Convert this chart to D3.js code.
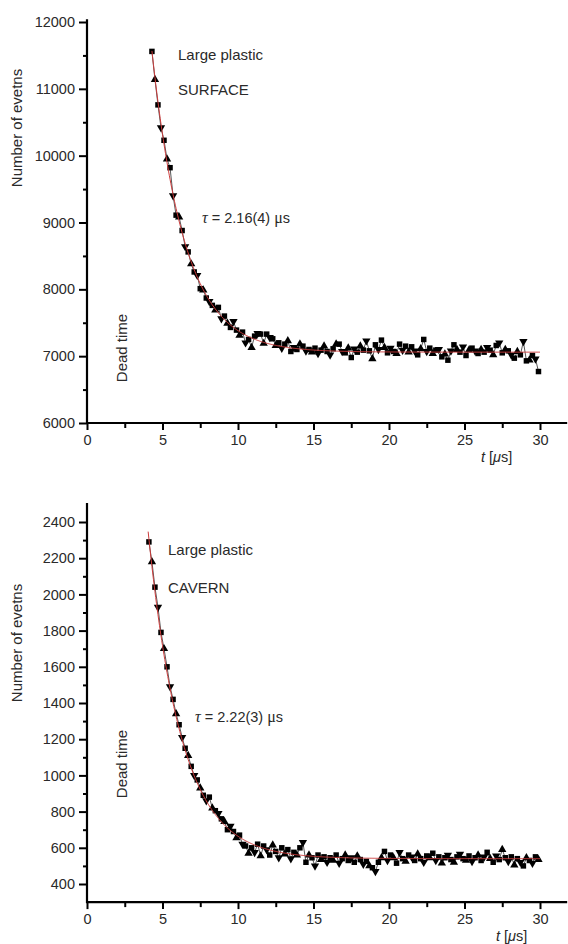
<!DOCTYPE html>
<html>
<head>
<meta charset="utf-8">
<script src="https://cdn.jsdelivr.net/npm/d3@7/dist/d3.min.js"></script>
<style>
  html, body { margin: 0; padding: 0; background: #fff; }
  svg { display: block; }
  text { font-family: "Liberation Sans", Arial, Helvetica, sans-serif; fill: #2a2a2a; }
</style>
</head>
<body>
<svg id="chart" width="568" height="944"></svg>
<script>
// ---- Time axis (bin centres in microseconds) ----
const binWidth = 0.2;
const xTicks = [0, 5, 10, 15, 20, 25, 30];
const xMinorTicks = [2.5, 7.5, 12.5, 17.5, 22.5, 27.5];

// ---- SURFACE detector: counts per bin, first bin at 4.3 us ----
const surfaceStart = 4.3;
const surfaceCounts = [
  11560, 11140, 10760, 10420, 10230, 9950, 9820, 9400, 9110, 9080,
  8880, 8640, 8560, 8380, 8260, 8210, 8010, 7990, 7870, 7820,
  7760, 7690, 7730, 7560, 7600, 7490, 7430, 7520, 7390, 7310,
  7360, 7200, 7250, 7130, 7300, 7340, 7330, 7190, 7330, 7280,
  7260, 7160, 7200, 7120, 7180, 7230, 7070, 7130, 7100, 7180,
  7150, 7080, 7100, 7060, 7120, 7040, 7090, 7150, 7070, 7020,
  7110, 7180, 7180, 7070, 7050, 7120, 6980, 7110, 7060, 7150,
  7090, 7230, 7080, 6960, 7170, 7100, 7240, 7130, 7050, 7120,
  7070, 7040, 7180, 7090, 7150, 7060, 7140, 7080, 7020, 7110,
  7250, 7070, 7120, 7040, 7090, 7100, 6990, 7030, 6940, 7080,
  7170, 7100, 7060, 7140, 7010, 7090, 7120, 7080, 7040, 7100,
  7060, 7130, 7090, 7020, 7160, 7200, 7050, 7100, 7080, 7020,
  6970, 7070, 7020, 7220, 6930, 6940, 7010, 6960, 6770
];
const surfaceYTicks = [6000, 7000, 8000, 9000, 10000, 11000, 12000];
const surfaceYMinor = [6500, 7500, 8500, 9500, 10500, 11500];
// exponential fit: N(t) = C + A * exp(-t / tau)
const surfaceFit = { tau: 2.16, amp: 33000, base: 7060, from: 4.3, to: 30 };

// ---- CAVERN detector: counts per bin, first bin at 4.1 us ----
const cavernStart = 4.1;
const cavernCounts = [
  2290, 2180, 2040, 1930, 1790, 1700, 1600, 1490, 1420, 1340,
  1280, 1210, 1150, 1110, 1050, 1000, 975, 930, 890, 860,
  880, 820, 805, 790, 760, 745, 700, 720, 690, 655,
  670, 620, 610, 570, 600, 575, 620, 555, 610, 590,
  560, 615, 580, 545, 600, 565, 590, 540, 575, 560,
  600, 630, 520, 560, 545, 500, 560, 535, 550, 520,
  545, 530, 560, 515, 540, 560, 530, 545, 520, 555,
  535, 510, 525, 500, 490, 470, 520, 545, 580, 530,
  560, 545, 515, 575, 540, 525, 560, 550, 530, 565,
  540, 520, 555, 545, 570, 530, 550, 515, 545, 560,
  535, 520, 550, 565, 540, 530, 555, 525, 545, 560,
  530, 550, 575, 540, 520, 555, 535, 590, 545, 525,
  550, 505, 540, 520, 500, 545, 530, 515, 550, 535
];
const cavernYTicks = [400, 600, 800, 1000, 1200, 1400, 1600, 1800, 2000, 2200, 2400];
const cavernYMinor = [500, 700, 900, 1100, 1300, 1500, 1700, 1900, 2100, 2300];
const cavernFit = { tau: 2.22, amp: 11200, base: 540, from: 4.05, to: 30 };

const svg = d3.select("#chart");
const markerTypes = [d3.symbolSquare, d3.symbolTriangle, d3.symbolSquare, "down"];

function drawPanel(cfg) {
  const g = svg.append("g");
  const x = d3.scaleLinear().domain([0, 30]).range([87, 540]);
  const y = d3.scaleLinear().domain(cfg.yDomain).range(cfg.yRange);
  const x0 = x(0), xEnd = x(31.8);
  const yBottom = y(cfg.yMin), yTop = y(cfg.yMax);

  // red exponential fit
  const fitT = d3.range(cfg.fit.from, cfg.fit.to + 1e-9, 0.05);
  const fitLine = d3.line()
    .x(t => x(t))
    .y(t => y(cfg.fit.base + cfg.fit.amp * Math.exp(-t / cfg.fit.tau)));
  // data points
  const pts = cfg.counts.map((v, i) => ({ t: cfg.start + i * binWidth, v, i }));

  g.append("path")
    .datum(pts)
    .attr("fill", "none")
    .attr("stroke", "#444")
    .attr("stroke-width", 0.9)
    .attr("d", d3.line().x(d => x(d.t)).y(d => y(d.v)));

  g.selectAll(".pt")
    .data(pts)
    .join("path")
    .attr("class", "pt")
    .attr("fill", "#000")
    .attr("d", d => {
      const type = markerTypes[d.i % 4];
      return d3.symbol().type(type === "down" ? d3.symbolTriangle : type).size(30)();
    })
    .attr("transform", d => {
      const rot = markerTypes[d.i % 4] === "down" ? " rotate(180)" : "";
      return `translate(${x(d.t)},${y(d.v)})${rot}`;
    });

  g.append("path")
    .datum(fitT)
    .attr("fill", "none")
    .attr("stroke", "#cc3b3b")
    .attr("stroke-width", 1)
    .attr("d", fitLine);

  // y axis: major ticks with labels, minor ticks unlabeled
  const yAxis = g.append("g").attr("transform", `translate(${x0},0)`)
    .call(d3.axisLeft(y).tickValues(cfg.yTicks).tickSize(8).tickPadding(4).tickFormat(d3.format("d")));
  yAxis.select(".domain").remove();
  const yMinor = g.append("g").attr("transform", `translate(${x0},0)`)
    .call(d3.axisLeft(y).tickValues(cfg.yMinor).tickSize(4).tickFormat(""));
  yMinor.select(".domain").remove();

  // x axis
  const xAxis = g.append("g").attr("transform", `translate(0,${yBottom})`)
    .call(d3.axisBottom(x).tickValues(xTicks).tickSize(7).tickPadding(5).tickFormat(d3.format("d")));
  xAxis.select(".domain").remove();
  const xMinor = g.append("g").attr("transform", `translate(0,${yBottom})`)
    .call(d3.axisBottom(x).tickValues(xMinorTicks).tickSize(5).tickFormat(""));
  xMinor.select(".domain").remove();

  g.selectAll(".tick line").attr("stroke", "#000").attr("stroke-width", 2);
  g.selectAll(".tick text")
    .style("font-size", "14.5px")
    .style("font-family", "'Liberation Sans', Arial, sans-serif")
    .attr("fill", "#2a2a2a");

  // axis lines
  g.append("line").attr("x1", x0).attr("x2", x0).attr("y1", yTop).attr("y2", yBottom + 1)
    .attr("stroke", "#000").attr("stroke-width", 2.2);
  g.append("line").attr("x1", x0 - 1).attr("x2", xEnd).attr("y1", yBottom).attr("y2", yBottom)
    .attr("stroke", "#000").attr("stroke-width", 2.2);

  // axis titles
  g.append("text")
    .attr("transform", `translate(22,${cfg.yLabelY}) rotate(-90)`)
    .attr("text-anchor", "middle")
    .style("font-size", "15px")
    .text("Number of evetns");

  const tl = g.append("text")
    .attr("x", cfg.tLabelX).attr("y", cfg.tLabelY)
    .style("font-size", "14.5px");
  tl.append("tspan").style("font-style", "italic").text("t");
  tl.append("tspan").text(" [");
  tl.append("tspan").style("font-style", "italic").text("μ");
  tl.append("tspan").text("s]");

  // annotations
  g.append("text")
    .attr("transform", `translate(127,${cfg.deadY}) rotate(-90)`)
    .attr("text-anchor", "middle")
    .style("font-size", "15px")
    .text("Dead time");

  g.append("text").attr("x", cfg.labelX).attr("y", cfg.label1Y)
    .style("font-size", "15px").text("Large plastic");
  g.append("text").attr("x", cfg.labelX).attr("y", cfg.label2Y)
    .style("font-size", "15px").text(cfg.site);

  const tau = g.append("text").attr("x", cfg.tauX).attr("y", cfg.tauY).style("font-size", "14.5px");
  tau.append("tspan").style("font-family", "'Liberation Serif', 'Times New Roman', serif")
    .style("font-style", "italic").style("font-size", "16px").text("τ");
  tau.append("tspan").text(` = ${cfg.tauText} `);
  tau.append("tspan").style("font-family", "'Liberation Serif', 'Times New Roman', serif")
    .style("font-size", "16px").text("μ");
  tau.append("tspan").text("s");
}

drawPanel({
  counts: surfaceCounts, start: surfaceStart, fit: surfaceFit,
  yDomain: [6000, 12000], yRange: [423, 22], yMin: 6000, yMax: 12040,
  yTicks: surfaceYTicks, yMinor: surfaceYMinor,
  yLabelY: 128, tLabelX: 481, tLabelY: 462, deadY: 348,
  labelX: 178, label1Y: 60, label2Y: 95, site: "SURFACE",
  tauX: 202, tauY: 223, tauText: "2.16(4)"
});

drawPanel({
  counts: cavernCounts, start: cavernStart, fit: cavernFit,
  yDomain: [400, 2400], yRange: [884, 522], yMin: 300, yMax: 2505,
  yTicks: cavernYTicks, yMinor: cavernYMinor,
  yLabelY: 643, tLabelX: 496, tLabelY: 941, deadY: 764,
  labelX: 168, label1Y: 555, label2Y: 593, site: "CAVERN",
  tauX: 195, tauY: 722, tauText: "2.22(3)"
});
</script>
</body>
</html>
